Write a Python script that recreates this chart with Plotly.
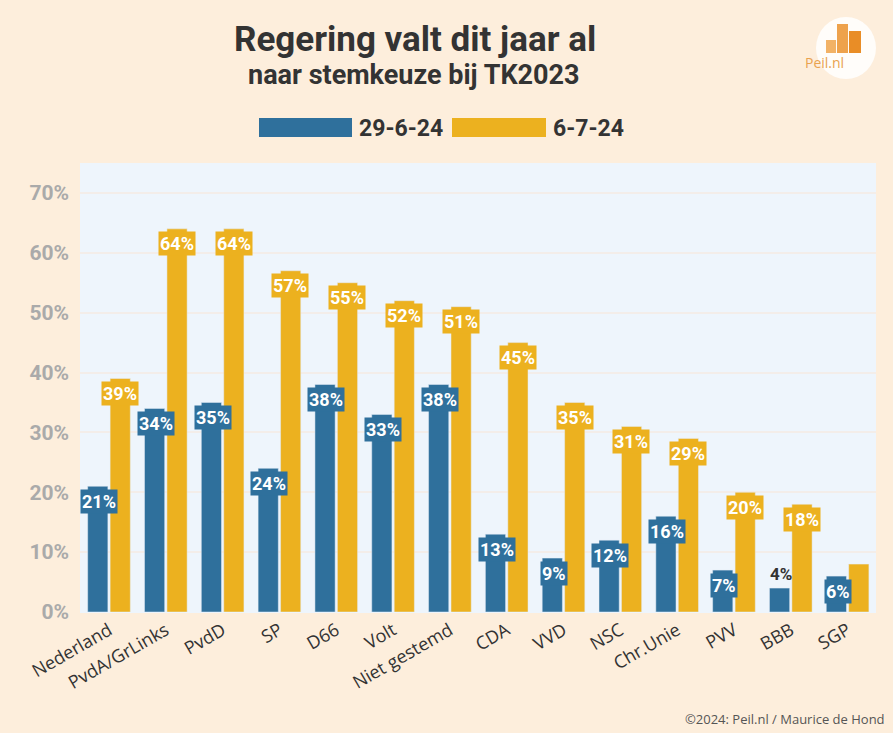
import plotly.graph_objects as go

categories = ["Nederland", "PvdA/GrLinks", "PvdD", "SP", "D66", "Volt", "Niet gestemd",
              "CDA", "VVD", "NSC", "Chr.Unie", "PVV", "BBB", "SGP"]
series_names = ["29-6-24", "6-7-24"]
values_29_6 = [21, 34, 35, 24, 38, 33, 38, 13, 9, 12, 16, 7, 4, 6]
values_6_7 = [39, 64, 64, 57, 55, 52, 51, 45, 35, 31, 29, 20, 18, 8]
show_label_6_7 = [True] * 13 + [False]
y_ticks = [0, 10, 20, 30, 40, 50, 60, 70]
y_tick_labels = [f"{v}%" for v in y_ticks]

BLUE = "#2f709c"
YELLOW = "#ecb11f"
BG = "#fdeedc"
PLOT_BG = "#eef5fc"
FONT = "Roboto"

W, H = 893, 733
ML, MR, MT, MB = 80, 17, 163, 121

fig = go.Figure()
fig.add_trace(go.Bar(x=categories, y=values_29_6, name=series_names[0], marker_color=BLUE,
                     hoverinfo="skip"))
fig.add_trace(go.Bar(x=categories, y=values_6_7, name=series_names[1], marker_color=YELLOW,
                     hoverinfo="skip"))

H_PLOT = H - MT - MB
W_PLOT = W - ML - MR
def py(pix):
    return (H - MB - pix) / H_PLOT
def px(pix):
    return (pix - ML) / W_PLOT

annotations = []
for cat, v in zip(categories, values_29_6):
    if v >= 5:
        annotations.append(dict(x=cat, y=v, xref="x", yref="y", text=f"<b>{v}%</b>",
                                showarrow=False, xshift=-10, yshift=-15, yanchor="middle",
                                bgcolor=BLUE, borderpad=1,
                                font=dict(family=FONT, size=18, color="white")))
    else:
        annotations.append(dict(x=cat, y=v, xref="x", yref="y", text=f"<b>{v}%</b>",
                                showarrow=False, xshift=-10, yshift=14, yanchor="middle",
                                font=dict(family=FONT, size=17, color="#333333")))
for cat, v, s in zip(categories, values_6_7, show_label_6_7):
    if s:
        annotations.append(dict(x=cat, y=v, xref="x", yref="y", text=f"<b>{v}%</b>",
                                showarrow=False, xshift=11, yshift=-15, yanchor="middle",
                                bgcolor=YELLOW, borderpad=1,
                                font=dict(family=FONT, size=18, color="white")))

# titles
annotations += [
    dict(x=px(415), y=py(39), xref="paper", yref="paper", yanchor="middle",
         text="<b>Regering valt dit jaar al</b>",
         showarrow=False, font=dict(family=FONT, size=35, color="#333333")),
    dict(x=px(414), y=py(75), xref="paper", yref="paper", yanchor="middle",
         text="<b>naar stemkeuze bij TK2023</b>",
         showarrow=False, font=dict(family=FONT, size=27, color="#333333")),
]

fig.update_layout(
    width=W, height=H,
    paper_bgcolor=BG, plot_bgcolor=PLOT_BG,
    margin=dict(l=ML, r=MR, t=MT, b=MB),
    barmode="group", bargap=0.21, bargroupgap=0.1,
    showlegend=False,
    xaxis=dict(tickangle=-30, tickfont=dict(family="Open Sans", size=18, color="#333333"),
               showgrid=False, ticks="", linecolor=PLOT_BG),
    yaxis=dict(range=[0, 75], tickvals=y_ticks, ticktext=[f"<b>{t}</b>" for t in y_tick_labels],
               tickfont=dict(family=FONT, size=21, color="#aaaaaa"), gridcolor="#f3ede9",
               gridwidth=2, zeroline=False, ticklabelstandoff=10),
)

# legend drawn as shapes + text
shapes = []
legend_items = [(series_names[0], BLUE, 259, 352, 357), (series_names[1], YELLOW, 452, 546, 551)]
for name, col, x0, x1, tx in legend_items:
    shapes.append(dict(type="rect", xref="paper", yref="paper", x0=px(x0), x1=px(x1),
                       y0=py(137), y1=py(118), fillcolor=col, line=dict(width=0), layer="above"))
    annotations.append(dict(x=px(tx), y=py(128), xref="paper", yref="paper", xanchor="left",
                            yanchor="middle", text=f"<b>{name}</b>", showarrow=False,
                            font=dict(family=FONT, size=23, color="#333333")))

# logo
shapes.append(dict(type="circle", xref="paper", yref="paper", x0=px(816), x1=px(876),
                   y0=py(79), y1=py(17), fillcolor="#ffffff", line=dict(width=0), opacity=0.85))
for (x0, x1, ytop, c) in [(826, 836, 40, "#f2b266"), (837, 848, 24, "#eea24c"), (849, 861, 31, "#e98d26")]:
    shapes.append(dict(type="rect", xref="paper", yref="paper", x0=px(x0), x1=px(x1),
                       y0=py(53), y1=py(ytop), fillcolor=c, line=dict(width=0)))
annotations.append(dict(x=px(846), y=py(63), xref="paper", yref="paper", text="Peil.nl",
                        showarrow=False, yanchor="middle",
                        font=dict(family="Open Sans", size=14, color="#e9a24f")))

# footer
annotations.append(dict(x=px(887), y=py(719), xref="paper", yref="paper", xanchor="right",
                        yanchor="middle", text="©2024: Peil.nl / Maurice de Hond", showarrow=False,
                        font=dict(family="Open Sans", size=13, color="#555555")))

fig.update_layout(annotations=annotations, shapes=shapes)
fig.write_html("out.html", config={"displayModeBar": False},
               post_script="document.body.style.margin='0';document.body.style.background='#fdeedc';")
